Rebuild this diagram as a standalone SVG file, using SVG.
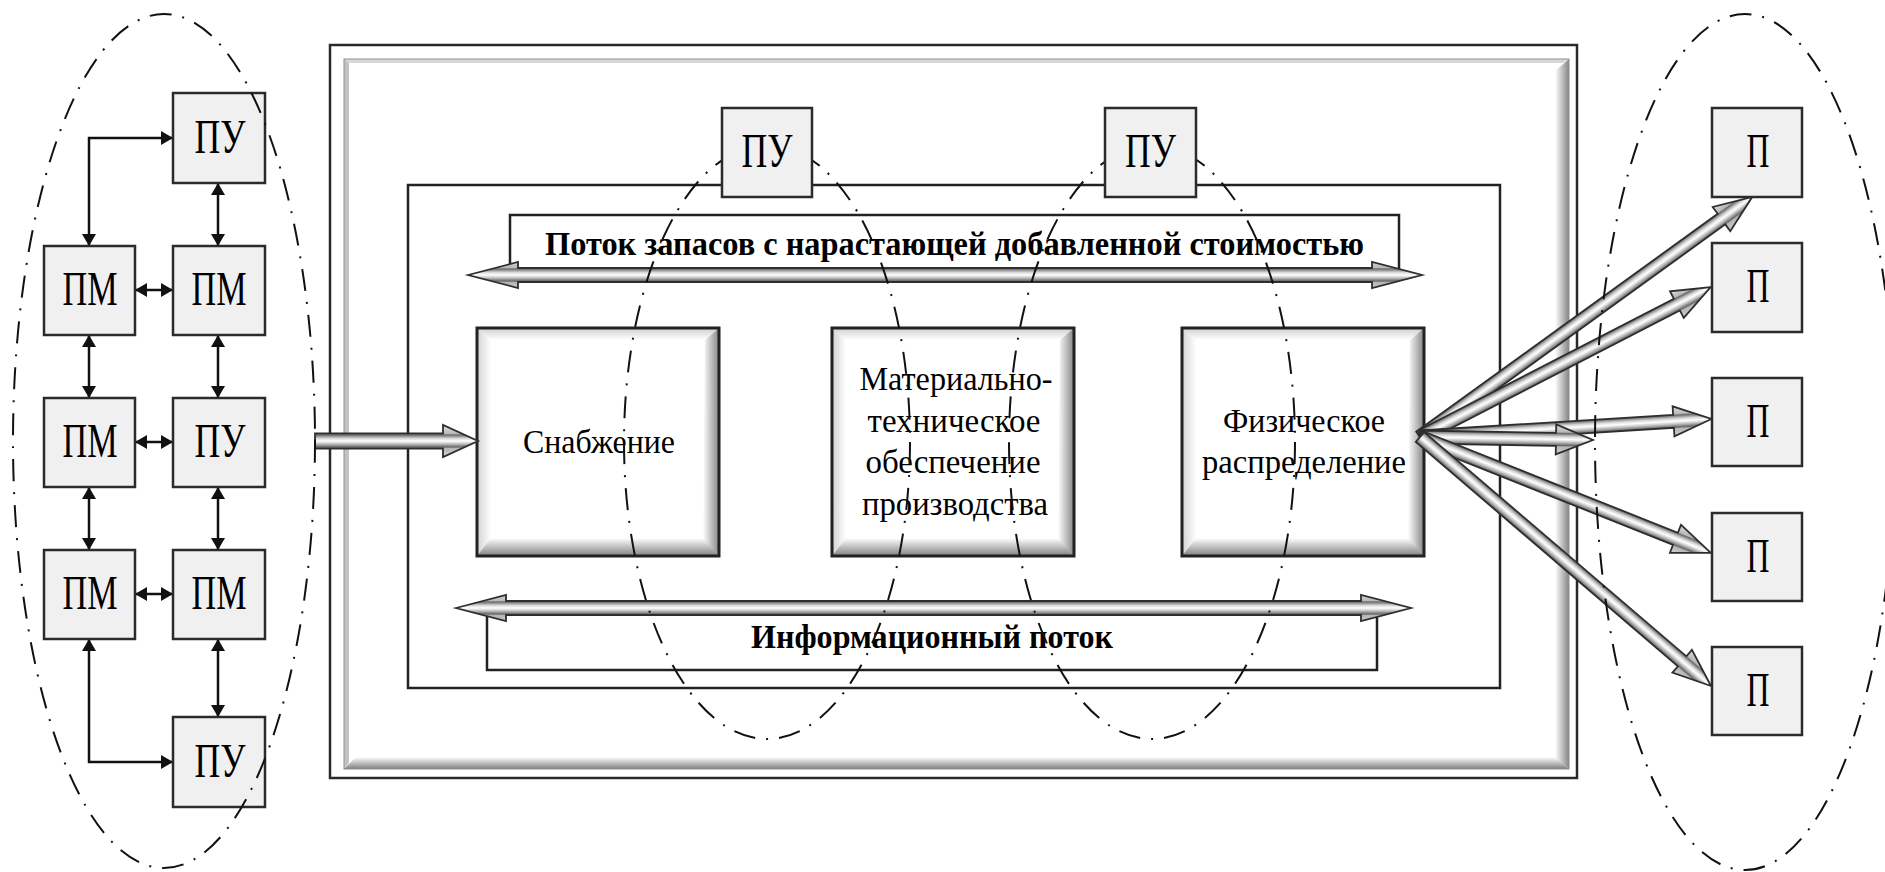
<svg xmlns="http://www.w3.org/2000/svg" xmlns:xlink="http://www.w3.org/1999/xlink" width="1885" height="872" viewBox="0 0 1885 872">
  <style>
    .sbox { fill: #f0f0f0; stroke: #2b2b2b; stroke-width: 2.5; }
    .lbl { font-family: "Liberation Serif", "Times New Roman", serif; font-size: 49px; fill: #000; text-anchor: middle; }
    .txt { font-family: "Liberation Serif", "Times New Roman", serif; font-size: 33px; fill: #000; text-anchor: middle; }
    .btxt { font-family: "Liberation Serif", "Times New Roman", serif; font-size: 33px; font-weight: bold; fill: #000; text-anchor: middle; }
    .link { fill: none; stroke: #111; stroke-width: 2.5; marker-start: url(#ah); marker-end: url(#ah); }
    .oval { fill: none; stroke: #111; stroke-width: 2; stroke-dasharray: 22 11 2 11; }
    .pipe { fill: url(#pipeGrad); stroke: #2e2e2e; stroke-width: 1.8; stroke-linejoin: miter; }
  </style>
  <defs>
    <marker id="ah" viewBox="0 0 12 14" refX="12" refY="7" markerWidth="12" markerHeight="14" markerUnits="userSpaceOnUse" orient="auto-start-reverse">
      <path d="M0,0 L12,7 L0,14 Z" fill="#111"/>
    </marker>
    <!-- tubular shading for the wide arrows, centred on the arrow axis -->
    <linearGradient id="pipeGrad" gradientUnits="userSpaceOnUse" x1="0" y1="-16" x2="0" y2="16">
      <stop offset="0" stop-color="#e4e4e4"/>
      <stop offset="0.27" stop-color="#b8b8b8"/>
      <stop offset="0.31" stop-color="#6a6a6a"/>
      <stop offset="0.42" stop-color="#d8d8d8"/>
      <stop offset="0.5" stop-color="#ffffff"/>
      <stop offset="0.58" stop-color="#c8c8c8"/>
      <stop offset="0.69" stop-color="#666666"/>
      <stop offset="0.73" stop-color="#b4b4b4"/>
      <stop offset="1" stop-color="#d8d8d8"/>
    </linearGradient>
    <linearGradient id="bevT" x1="0" y1="0" x2="0" y2="1">
      <stop offset="0" stop-color="#cfcfcf"/><stop offset="1" stop-color="#ffffff"/>
    </linearGradient>
    <linearGradient id="bevL" x1="0" y1="0" x2="1" y2="0">
      <stop offset="0" stop-color="#d2d2d2"/><stop offset="1" stop-color="#ffffff"/>
    </linearGradient>
    <linearGradient id="bevR" x1="0" y1="0" x2="1" y2="0">
      <stop offset="0" stop-color="#ffffff"/><stop offset="1" stop-color="#858585"/>
    </linearGradient>
    <linearGradient id="bevB" x1="0" y1="0" x2="0" y2="1">
      <stop offset="0" stop-color="#ffffff"/><stop offset="1" stop-color="#808080"/>
    </linearGradient>
    <!-- bevelled block used for the three function boxes (242 x 228) -->
    <g id="bevelBox">
      <rect x="0" y="0" width="242" height="228" fill="#ffffff"/>
      <path d="M0,0 L242,0 L228,12 L14,12 Z" fill="url(#bevT)"/>
      <path d="M0,0 L14,12 L14,212 L0,228 Z" fill="url(#bevL)"/>
      <path d="M242,0 L242,228 L226,212 L228,12 Z" fill="url(#bevR)"/>
      <path d="M0,228 L14,210 L226,210 L242,228 Z" fill="url(#bevB)"/>
      <rect x="0" y="0" width="242" height="228" fill="none" stroke="#222" stroke-width="3"/>
    </g>
  </defs>

  <rect width="1885" height="872" fill="#ffffff"/>

  <!-- enterprise frame -->
  <g id="frame">
    <rect x="330" y="45" width="1247" height="733" fill="#ffffff" stroke="#2a2a2a" stroke-width="2.5"/>
    <path d="M344,59 L1569,59 L1563,63 L349,63 Z" fill="#d8d8d8"/>
    <path d="M344,59 L349,63 L349,763 L344,769 Z" fill="#c2c2c2"/>
    <path d="M1569,59 L1569,769 L1555,757 L1555,71 Z" fill="url(#bevR)"/>
    <path d="M344,769 L356,757 L1555,757 L1569,769 Z" fill="url(#bevB)"/>
    <rect x="344" y="59" width="1225" height="710" fill="none" stroke="#8f8f8f" stroke-width="1"/>
  </g>

  <g id="logistics-system">
    <rect x="408" y="185" width="1092" height="503" fill="none" stroke="#222" stroke-width="2.5"/>
  </g>

  <!-- flow banners -->
  <g id="stock-flow">
    <rect x="510" y="215" width="889" height="61" fill="#ffffff" stroke="#222" stroke-width="2.5"/>
    <text class="btxt" x="954.5" y="255" textLength="819" lengthAdjust="spacingAndGlyphs">Поток запасов с нарастающей добавленной стоимостью</text>
  </g>
  <g id="info-flow">
    <rect x="487" y="610" width="890" height="60" fill="#ffffff" stroke="#222" stroke-width="2.5"/>
    <text class="btxt" x="932" y="648" textLength="362" lengthAdjust="spacingAndGlyphs">Информационный поток</text>
  </g>

  <!-- function blocks -->
  <g id="supply">
    <use xlink:href="#bevelBox" x="477" y="328"/>
    <text class="txt" x="599" y="453" textLength="152" lengthAdjust="spacingAndGlyphs">Снабжение</text>
  </g>
  <g id="production-support">
    <use xlink:href="#bevelBox" x="832" y="328"/>
    <text class="txt" x="956" y="390" textLength="193" lengthAdjust="spacingAndGlyphs">Материально-</text>
    <text class="txt" x="954" y="432" textLength="173" lengthAdjust="spacingAndGlyphs">техническое</text>
    <text class="txt" x="953" y="473" textLength="175" lengthAdjust="spacingAndGlyphs">обеспечение</text>
    <text class="txt" x="955" y="515" textLength="186" lengthAdjust="spacingAndGlyphs">производства</text>
  </g>
  <g id="distribution">
    <use xlink:href="#bevelBox" x="1182" y="328"/>
    <text class="txt" x="1304" y="432" textLength="162" lengthAdjust="spacingAndGlyphs">Физическое</text>
    <text class="txt" x="1304" y="473" textLength="204" lengthAdjust="spacingAndGlyphs">распределение</text>
  </g>

  <!-- connectors -->
  <g id="connectors">
    <!-- wide double-headed flow arrows -->
    <path class="pipe" transform="translate(468,275)" d="M0,0 L50,-13 L50,-7 L904,-7 L904,-13 L954,0 L904,13 L904,7 L50,7 L50,13 Z"/>
    <path class="pipe" transform="translate(456,608)" d="M0,0 L50,-13 L50,-7 L905,-7 L905,-13 L955,0 L905,13 L905,7 L50,7 L50,13 Z"/>
    <!-- inbound arrow into supply -->
    <path class="pipe" transform="translate(315,441)" d="M0,-7.5 L128,-7.5 L128,-16 L163,0 L128,16 L128,7.5 L0,7.5 Z"/>
    <!-- distribution fan -->
    <path class="pipe" transform="translate(1420,437) rotate(-35.86)" d="M0,-6.5 L372,-6.5 L372,-15 L410,0 L372,15 L372,6.5 L0,6.5 Z"/>
    <path class="pipe" transform="translate(1420,437) rotate(-27.27)" d="M0,-6.5 L289,-6.5 L289,-15 L327,0 L289,15 L289,6.5 L0,6.5 Z"/>
    <path class="pipe" transform="translate(1420,437) rotate(-3.54)" d="M0,-6.5 L254,-6.5 L254,-15 L292,0 L254,15 L254,6.5 L0,6.5 Z"/>
    <path class="pipe" transform="translate(1420,437) rotate(0.99)" d="M0,-6.5 L136,-6.5 L136,-15 L173,0 L136,15 L136,6.5 L0,6.5 Z"/>
    <path class="pipe" transform="translate(1420,437) rotate(21.73)" d="M0,-6.5 L275,-6.5 L275,-15 L313,0 L275,15 L275,6.5 L0,6.5 Z"/>
    <path class="pipe" transform="translate(1420,437) rotate(40.55)" d="M0,-6.5 L345,-6.5 L345,-15 L383,0 L345,15 L345,6.5 L0,6.5 Z"/>

    <!-- supplier network links -->
    <path class="link" d="M89,246 V138 H173"/>
    <path class="link" d="M218,183 V246"/>
    <path class="link" d="M135,290 H173"/>
    <path class="link" d="M89,335 V398"/>
    <path class="link" d="M218,335 V398"/>
    <path class="link" d="M135,442 H173"/>
    <path class="link" d="M89,487 V550"/>
    <path class="link" d="M218,487 V550"/>
    <path class="link" d="M135,594 H173"/>
    <path class="link" d="M218,639 V717"/>
    <path class="link" d="M89,639 V762 H173"/>
  </g>

  <!-- grouping ovals around the control points -->
  <g id="ovals-inner">
    <ellipse class="oval" cx="767" cy="442" rx="143" ry="297"/>
    <ellipse class="oval" cx="1152" cy="442" rx="143" ry="297"/>
  </g>

  <g id="pu-supply">
    <rect class="sbox" x="722" y="108" width="90" height="89"/>
    <text class="lbl" x="767" y="167" textLength="51" lengthAdjust="spacingAndGlyphs">ПУ</text>
  </g>
  <g id="pu-distribution">
    <rect class="sbox" x="1105" y="108" width="91" height="89"/>
    <text class="lbl" x="1150.5" y="167" textLength="51" lengthAdjust="spacingAndGlyphs">ПУ</text>
  </g>

  <!-- supplier network -->
  <g id="pu-1">
    <rect class="sbox" x="173" y="93" width="92" height="90"/>
    <text class="lbl" x="220" y="153" textLength="51" lengthAdjust="spacingAndGlyphs">ПУ</text>
  </g>
  <g id="pm-1a">
    <rect class="sbox" x="44" y="246" width="91" height="89"/>
    <text class="lbl" x="90" y="305" textLength="55" lengthAdjust="spacingAndGlyphs">ПМ</text>
  </g>
  <g id="pm-1b">
    <rect class="sbox" x="173" y="246" width="92" height="89"/>
    <text class="lbl" x="219" y="305" textLength="55" lengthAdjust="spacingAndGlyphs">ПМ</text>
  </g>
  <g id="pm-2a">
    <rect class="sbox" x="44" y="398" width="91" height="89"/>
    <text class="lbl" x="90" y="457" textLength="55" lengthAdjust="spacingAndGlyphs">ПМ</text>
  </g>
  <g id="pu-2">
    <rect class="sbox" x="173" y="398" width="92" height="89"/>
    <text class="lbl" x="220" y="457" textLength="51" lengthAdjust="spacingAndGlyphs">ПУ</text>
  </g>
  <g id="pm-3a">
    <rect class="sbox" x="44" y="550" width="91" height="89"/>
    <text class="lbl" x="90" y="609" textLength="55" lengthAdjust="spacingAndGlyphs">ПМ</text>
  </g>
  <g id="pm-3b">
    <rect class="sbox" x="173" y="550" width="92" height="89"/>
    <text class="lbl" x="219" y="609" textLength="55" lengthAdjust="spacingAndGlyphs">ПМ</text>
  </g>
  <g id="pu-3">
    <rect class="sbox" x="173" y="717" width="92" height="90"/>
    <text class="lbl" x="220" y="777" textLength="51" lengthAdjust="spacingAndGlyphs">ПУ</text>
  </g>

  <!-- consumers -->
  <g id="p-1">
    <rect class="sbox" x="1712" y="108" width="90" height="89"/>
    <text class="lbl" x="1758" y="167" textLength="23" lengthAdjust="spacingAndGlyphs">П</text>
  </g>
  <g id="p-2">
    <rect class="sbox" x="1712" y="243" width="90" height="89"/>
    <text class="lbl" x="1758" y="302" textLength="23" lengthAdjust="spacingAndGlyphs">П</text>
  </g>
  <g id="p-3">
    <rect class="sbox" x="1712" y="378" width="90" height="88"/>
    <text class="lbl" x="1758" y="437" textLength="23" lengthAdjust="spacingAndGlyphs">П</text>
  </g>
  <g id="p-4">
    <rect class="sbox" x="1712" y="513" width="90" height="88"/>
    <text class="lbl" x="1758" y="572" textLength="23" lengthAdjust="spacingAndGlyphs">П</text>
  </g>
  <g id="p-5">
    <rect class="sbox" x="1712" y="647" width="90" height="88"/>
    <text class="lbl" x="1758" y="706" textLength="23" lengthAdjust="spacingAndGlyphs">П</text>
  </g>

  <!-- outer grouping ovals -->
  <g id="ovals-outer">
    <ellipse class="oval" cx="164" cy="441" rx="151" ry="427"/>
    <ellipse class="oval" cx="1745" cy="442" rx="150" ry="428"/>
  </g>
</svg>
